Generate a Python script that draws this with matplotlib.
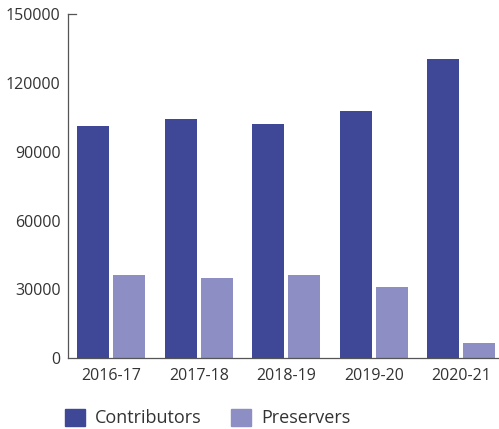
import matplotlib
matplotlib.use("Agg")
import matplotlib.pyplot as plt
import numpy as np
from matplotlib.patches import Patch

plt.rcParams['font.family'] = ['Open Sans', 'DejaVu Sans']

years = ["2016-17", "2017-18", "2018-19", "2019-20", "2020-21"]
contributors = [101200, 104300, 102300, 107600, 130700]
preservers = [36100, 34700, 36300, 31000, 6600]
yticks = [0, 30000, 60000, 90000, 120000, 150000]

dark = "#3f4896"
light = "#8d8ec4"
text_color = "#333333"

fig = plt.figure(figsize=(4.99, 4.29), dpi=100)
ax = fig.add_axes([0.1357, 0.1655, 0.8643, 0.8012])

x = np.arange(len(years))
w = 0.366
ax.bar(x - 0.206, contributors, width=w, color=dark)
ax.bar(x + 0.206, preservers, width=w, color=light)

ax.set_xlim(-0.496, 4.43)
ax.set_ylim(0, 150000)
ax.set_yticks(yticks)
ax.set_xticks(x)
ax.set_xticklabels(years)

for side in ("top", "right"):
    ax.spines[side].set_visible(False)
for side in ("left", "bottom"):
    ax.spines[side].set_color("#555555")
    ax.spines[side].set_linewidth(0.9)

ax.tick_params(axis="both", length=0, labelsize=11.5, labelcolor=text_color)
ax.tick_params(axis="y", pad=5)
ax.tick_params(axis="x", pad=7)

# short cap at the top of the y axis
ax.plot([0, 0.02], [1, 1], transform=ax.transAxes, color="#555555",
        lw=0.9, clip_on=False)

handles = [Patch(color=dark, label="Contributors"),
           Patch(color=light, label="Preservers")]
fig.legend(handles=handles, loc="lower left", bbox_to_anchor=(0.097, -0.034),
           ncol=2, frameon=False, fontsize=13, handlelength=1.1,
           handleheight=1.1, handletextpad=0.6, columnspacing=1.6,
           labelcolor=text_color)

fig.savefig("out.png", dpi=100)
